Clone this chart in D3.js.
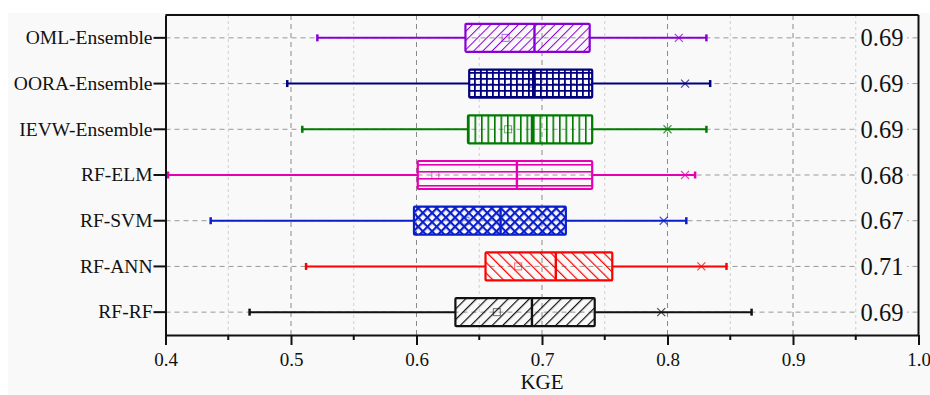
<!DOCTYPE html>
<html><head><meta charset="utf-8">
<script src="https://cdn.jsdelivr.net/npm/d3@7"></script>
<style>
html,body{margin:0;padding:0;background:#fff;}
svg{display:block;}
text{font-family:"Liberation Serif","Times New Roman",serif;fill:#111;}
</style></head>
<body>
<script>
const categories = ["OML-Ensemble","OORA-Ensemble","IEVW-Ensemble","RF-ELM","RF-SVM","RF-ANN","RF-RF"];
const whiskerLow  = [0.521, 0.497, 0.509, 0.402, 0.436, 0.512, 0.467];
const q1          = [0.639, 0.642, 0.641, 0.601, 0.598, 0.655, 0.631];
const median      = [0.694, 0.693, 0.692, 0.680, 0.667, 0.711, 0.692];
const q3          = [0.738, 0.740, 0.740, 0.740, 0.719, 0.756, 0.742];
const whiskerHigh = [0.831, 0.834, 0.831, 0.822, 0.815, 0.847, 0.867];
const meanVal     = [0.671, 0.692, 0.673, 0.615, 0.639, 0.681, 0.664];
const crossVal    = [0.809, 0.814, 0.800, 0.814, 0.797, 0.827, 0.795];
const rightLabels = ["0.69","0.69","0.69","0.68","0.67","0.71","0.69"];
const colors = ["#8a00d4","#00007f","#007a00","#e600b4","#0a1ecc","#ff0000","#111111"];
const patternKinds = ["fwd","grid","vert","horiz","cross","back","fwd"];
const xTicks = [0.4,0.5,0.6,0.7,0.8,0.9,1.0];
const xMinor = [0.45,0.55,0.65,0.75,0.85,0.95];

const W = 930, H = 395;
const M = {left:165.5, right:918.5, top:15, bottom:335};
const svg = d3.select("body").append("svg").attr("width",W).attr("height",H);

svg.append("rect").attr("x",8).attr("y",13).attr("width",W-8).attr("height",H-13).attr("fill","#f9f9f9");

const x = d3.scaleLinear().domain([0.4,1.0]).range([M.left,M.right]);
const y = d3.scaleBand().domain(categories).range([M.top,M.bottom]).paddingInner(0).paddingOuter(0);
const bh = 28;

// minor grid
svg.append("g").selectAll("line").data(xMinor).join("line")
  .attr("x1",d=>x(d)).attr("x2",d=>x(d)).attr("y1",M.top).attr("y2",M.bottom)
  .attr("stroke","#cfcfcf").attr("stroke-width",1).attr("stroke-dasharray","3,3");
// major grid
svg.append("g").selectAll("line").data(xTicks.slice(1,-1)).join("line")
  .attr("x1",d=>x(d)).attr("x2",d=>x(d)).attr("y1",M.top).attr("y2",M.bottom)
  .attr("stroke","#8a8a8a").attr("stroke-width",1).attr("stroke-dasharray","5,4");
// horizontal row lines
svg.append("g").selectAll("line").data(categories).join("line")
  .attr("x1",M.left).attr("x2",M.right).attr("y1",d=>y(d)+y.bandwidth()/2).attr("y2",d=>y(d)+y.bandwidth()/2)
  .attr("stroke","#999").attr("stroke-width",1).attr("stroke-dasharray","5,4");

// patterns (transparent background)
const defs = svg.append("defs");
categories.forEach((c,i)=>{
  const col = colors[i], k = patternKinds[i];
  let p;
  if(k==="fwd"||k==="back"){
    const s = i===0?6.5:7.5;
    p = defs.append("pattern").attr("id","pat"+i).attr("patternUnits","userSpaceOnUse").attr("width",s).attr("height",s)
      .attr("patternTransform","rotate("+(k==="fwd"?45:-45)+")");
    p.append("line").attr("x1",0).attr("y1",0).attr("x2",0).attr("y2",s).attr("stroke",col).attr("stroke-width",i===0?2:2.4);
  } else if(k==="grid"){
    const s=6;
    p = defs.append("pattern").attr("id","pat"+i).attr("patternUnits","userSpaceOnUse").attr("width",s).attr("height",s);
    p.append("path").attr("d",`M0,0.9H${s}M0.9,0V${s}`).attr("stroke",col).attr("stroke-width",1.8).attr("fill","none");
  } else if(k==="vert"){
    const s=6.5;
    p = defs.append("pattern").attr("id","pat"+i).attr("patternUnits","userSpaceOnUse").attr("width",s).attr("height",s);
    p.append("rect").attr("x",0).attr("y",0).attr("width",1.6).attr("height",s).attr("fill",col);
  } else if(k==="horiz"){
    const s=7;
    p = defs.append("pattern").attr("id","pat"+i).attr("patternUnits","userSpaceOnUse").attr("width",s).attr("height",s)
      .attr("y",y(c)+ (y.bandwidth()-bh)/2 + 3);
    p.append("rect").attr("x",0).attr("y",0).attr("width",s).attr("height",1.6).attr("fill",col);
  } else if(k==="cross"){
    const s=6.5;
    p = defs.append("pattern").attr("id","pat"+i).attr("patternUnits","userSpaceOnUse").attr("width",s).attr("height",s)
      .attr("patternTransform","rotate(45)");
    p.append("path").attr("d",`M0,1.1H${s}M1.1,0V${s}`).attr("stroke",col).attr("stroke-width",2.2).attr("fill","none");
  }
});

// boxes
const g = svg.append("g");
categories.forEach((c,i)=>{
  const cy = y(c)+y.bandwidth()/2, col = colors[i];
  const gg = g.append("g");
  gg.append("line").attr("x1",x(whiskerLow[i])).attr("x2",x(q1[i])).attr("y1",cy).attr("y2",cy).attr("stroke",col).attr("stroke-width",2);
  gg.append("line").attr("x1",x(q3[i])).attr("x2",x(whiskerHigh[i])).attr("y1",cy).attr("y2",cy).attr("stroke",col).attr("stroke-width",2);
  [whiskerLow[i],whiskerHigh[i]].forEach(v=>{
    gg.append("line").attr("x1",x(v)).attr("x2",x(v)).attr("y1",cy-3.5).attr("y2",cy+3.5).attr("stroke",col).attr("stroke-width",2.5);
  });
  gg.append("rect").attr("x",x(q1[i])).attr("y",cy-bh/2).attr("width",x(q3[i])-x(q1[i])).attr("height",bh)
    .attr("fill","url(#pat"+i+")").attr("stroke",col).attr("stroke-width",2.2).attr("rx",1);
  gg.append("line").attr("x1",x(median[i])).attr("x2",x(median[i])).attr("y1",cy-bh/2).attr("y2",cy+bh/2).attr("stroke",col).attr("stroke-width",2.4);
  // mean square
  gg.append("rect").attr("x",x(meanVal[i])-3.5).attr("y",cy-3.5).attr("width",7).attr("height",7)
    .attr("fill","none").attr("stroke",col).attr("stroke-width",1).attr("opacity",0.6);
  // cross
  const cx = x(crossVal[i]), r=4;
  gg.append("path").attr("d",`M${cx-r},${cy-r}L${cx+r},${cy+r}M${cx-r},${cy+r}L${cx+r},${cy-r}`)
    .attr("stroke",col).attr("stroke-width",1.2).attr("fill","none").attr("opacity",0.75);
  // right label
  const lx = 882;
  gg.append("rect").attr("x",lx-25).attr("y",cy-13).attr("width",50).attr("height",26).attr("fill","#f9f9f9");
  gg.append("text").attr("x",lx).attr("y",cy+8.5).attr("text-anchor","middle").attr("font-size",24.5).text(rightLabels[i]);
});

// frame
svg.append("line").attr("x1",M.left).attr("x2",M.right).attr("y1",M.top).attr("y2",M.top).attr("stroke","#111").attr("stroke-width",2);
svg.append("line").attr("x1",M.right).attr("x2",M.right).attr("y1",M.top).attr("y2",M.bottom).attr("stroke","#111").attr("stroke-width",2);

// axes
const xAxis = d3.axisBottom(x).tickValues(xTicks).tickFormat(d3.format(".1f")).tickSize(10).tickSizeOuter(0);
const ax = svg.append("g").attr("transform",`translate(0,${M.bottom})`).call(xAxis);
ax.select(".domain").attr("stroke","#111").attr("stroke-width",2);
ax.selectAll(".tick line").attr("stroke","#111").attr("stroke-width",2);
ax.selectAll(".tick text").attr("font-size",19).attr("font-family","Liberation Serif, serif").attr("fill","#111").attr("dy","0.35em").attr("y",24);
svg.append("g").selectAll("line").data(xMinor).join("line")
  .attr("x1",d=>x(d)).attr("x2",d=>x(d)).attr("y1",M.bottom).attr("y2",M.bottom+5).attr("stroke","#111").attr("stroke-width",2);

const yAxis = d3.axisLeft(y).tickSize(12).tickSizeOuter(0).tickPadding(1);
const ay = svg.append("g").attr("transform",`translate(${M.left},0)`).call(yAxis);
ay.select(".domain").attr("stroke","#111").attr("stroke-width",2);
ay.selectAll(".tick line").attr("stroke","#111").attr("stroke-width",2);
ay.selectAll(".tick text").attr("font-size",19.5).attr("font-family","Liberation Serif, serif").attr("fill","#111");

svg.append("text").attr("x",(M.left+M.right)/2).attr("y",389).attr("text-anchor","middle").attr("font-size",21).text("KGE");
</script>
</body></html>
